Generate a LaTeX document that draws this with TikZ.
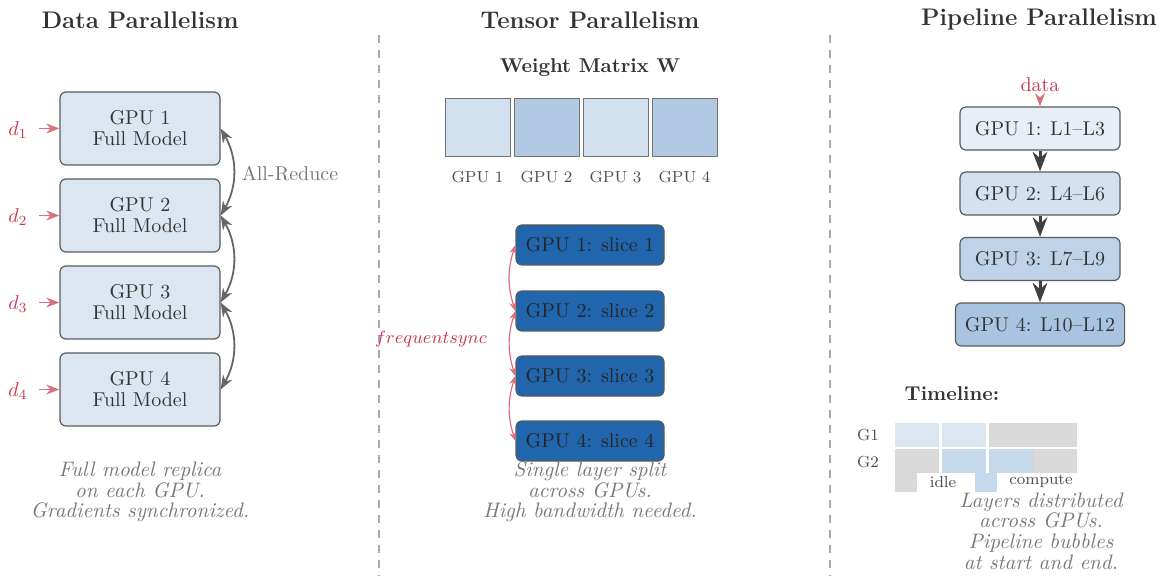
\documentclass[tikz,border=0pt]{standalone}
\usetikzlibrary{arrows.meta}
\definecolor{inkdark}{HTML}{333333}
\definecolor{boxline}{HTML}{5A5A5A}
\definecolor{capgray}{HTML}{777777}
\definecolor{sepgray}{HTML}{AAAAAA}
\definecolor{datared}{HTML}{C8374D}
\definecolor{arrred}{HTML}{D9707F}
\definecolor{replica}{HTML}{DCE6F1}
\definecolor{slicefill}{HTML}{2166AC}
\definecolor{wlight}{HTML}{D3E0EE}
\definecolor{wdark}{HTML}{B2C9E3}
\definecolor{stageA}{HTML}{E8EEF7}
\definecolor{stageB}{HTML}{D4E1EF}
\definecolor{stageC}{HTML}{BFD3E8}
\definecolor{stageD}{HTML}{A9C4E0}
\definecolor{idlegray}{HTML}{D9D9D9}
\definecolor{busyblue}{HTML}{C6D8EB}
\begin{document}
\begin{tikzpicture}[x=0.5pt,y=-0.5pt,
  title/.style={font=\large\bfseries, text=inkdark},
  caption/.style={font=\fontsize{10.5}{10.3}\selectfont\itshape, text=capgray, align=center},
  replicabox/.style={draw=boxline, fill=replica, rounded corners=3pt, line width=0.6pt,
    minimum width=80pt, minimum height=36.5pt, align=center, text=inkdark,
    font=\fontsize{10}{10.5}\selectfont},
  slicebox/.style={draw=boxline, fill=slicefill, rounded corners=3pt, line width=0.6pt,
    minimum width=74pt, minimum height=20pt, text=black!85},
  stagebox/.style={draw=boxline, rounded corners=3pt, line width=0.6pt,
    minimum width=80pt, minimum height=21.5pt, inner xsep=4.7pt, text=inkdark},
  wcell/.style={draw=black!55, line width=0.5pt, minimum width=32.5pt, minimum height=29pt},
  small label/.style={font=\footnotesize, text=black!70},
  inarrow/.style={-Stealth, arrred, line width=0.8pt},
  reduce/.style={Stealth-Stealth, black!60, line width=0.9pt},
  syncarrow/.style={{Stealth[length=4.5pt,width=3.5pt]}-{Stealth[length=4.5pt,width=3.5pt]}, arrred, line width=0.6pt},
  flow/.style={-Stealth, black!75, line width=1.5pt},
  separator/.style={sepgray, line width=0.6pt, dash pattern=on 4pt off 3.5pt}
]
\useasboundingbox (0,0) rectangle (1159,576);

% column separators
\draw[separator] (379,35) -- (379,576);
\draw[separator] (830,35) -- (830,576);

% ---------------- data parallelism ----------------
\node[title] (tdata) at (140,20) {Data Parallelism};
\foreach \i/\y in {1/128.5,2/215.5,3/302.5,4/389.5}{
  \node[replicabox] (g\i) at (140,\y) {GPU \i\\Full Model};
  \node[text=datared] (d\i) at (18,\y+2) {$d_{\i}$};
  \draw[inarrow] ([xshift=-10pt]g\i.west) -- (g\i.west);
}
\draw[reduce] (g1.east) to[bend left=30] (g2.east);
\draw[reduce] (g2.east) to[bend left=30] (g3.east);
\draw[reduce] (g3.east) to[bend left=30] (g4.east);
\node[text=capgray] (allred) at (290,174) {All-Reduce};
\node[caption] (capdata) at (140,492) {Full model replica\\on each GPU.\\Gradients synchronized.};

% ---------------- tensor parallelism ----------------
\node[title] (ttensor) at (590,20) {Tensor Parallelism};
\node[font=\bfseries, text=inkdark] (wtitle) at (590,68) {Weight Matrix W};
\node[wcell, fill=wlight] (w1) at (477.5,128) {};
\node[wcell, fill=wdark]  (w2) at (546.5,128) {};
\node[wcell, fill=wlight] (w3) at (615.5,128) {};
\node[wcell, fill=wdark]  (w4) at (684.5,128) {};
\foreach \i in {1,...,4}{
  \node[small label] (wl\i) at ([yshift=-10pt]w\i.south) {GPU \i};
}
\foreach \i/\y in {1/245,2/311,3/376,4/441}{
  \node[slicebox] (s\i) at (590,\y) {GPU \i: slice \i};
}
\draw[syncarrow] (s1.west) to[bend right=18] (s2.west);
\draw[syncarrow] (s2.west) to[bend right=18] (s3.west);
\draw[syncarrow] (s3.west) to[bend right=18] (s4.west);
\node[text=datared, font=\fontsize{9.4}{11}\selectfont] (sync) at (431,339) {$frequent sync$};
\node[caption] (captensor) at (590,492) {Single layer split\\across GPUs.\\High bandwidth needed.};

% ---------------- pipeline parallelism ----------------
\node[title] (tpipe) at (1039,20) {Pipeline Parallelism};
\node[text=datared] (data) at (1040,85) {data};
\node[stagebox, fill=stageA] (p1) at (1040,128.5) {GPU 1: L1--L3};
\node[stagebox, fill=stageB] (p2) at (1040,193.5) {GPU 2: L4--L6};
\node[stagebox, fill=stageC] (p3) at (1040,259)   {GPU 3: L7--L9};
\node[stagebox, fill=stageD] (p4) at (1040,324.5) {GPU 4: L10--L12};
\draw[inarrow] ([yshift=1pt]data.south) -- (p1.north);
\draw[flow] (p1) -- (p2);
\draw[flow] (p2) -- (p3);
\draw[flow] (p3) -- (p4);

% timeline of the two stages
\node[font=\bfseries, text=inkdark] (tline) at (952,394) {Timeline:};
\node[small label] (lg1) at (868,435) {G1};
\node[small label] (lg2) at (868,462) {G2};
\fill[replica]  (895,423) rectangle (939,447);
\fill[replica]  (941.5,423) rectangle (985.5,447);
\fill[idlegray] (989,423) rectangle (1077,447);
\fill[idlegray] (895,449) rectangle (939,473);
\fill[busyblue] (941.5,449) rectangle (985.5,473);
\fill[busyblue] (989,449) rectangle (1033,473);
\fill[idlegray] (1033,449) rectangle (1077,473);
\fill[idlegray] (895,473) rectangle (917,492);
\node[small label] (idle) at (943,482) {idle};
\fill[busyblue] (975,473) rectangle (997,492);
\node[small label] (busy) at (1041,481) {compute};
\node[caption] (cappipe) at (1041,531) {Layers distributed\\across GPUs.\\Pipeline bubbles\\at start and end.};
\end{tikzpicture}
\end{document}
